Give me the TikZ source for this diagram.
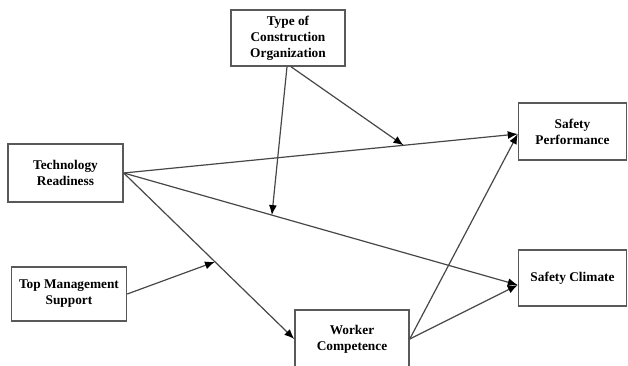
\documentclass[tikz,border=0pt]{standalone}
\usepackage{fontspec}
\setmainfont{Liberation Serif}
\usetikzlibrary{arrows.meta,calc}
\begin{document}
\begin{tikzpicture}[x=0.75pt,y=-0.75pt,
  box/.style={draw=black!65,line width=1.1pt,fill=white,align=center,inner sep=0pt,
    font=\fontsize{10}{12}\selectfont\bfseries},
  link/.style={draw=black!72,line width=0.9pt,-{Latex[length=7.5pt,width=6pt,color=black,fill=black]}}]
\useasboundingbox (0,0) rectangle (628,366);
\node[box,minimum width=85.5pt,minimum height=42pt] (type) at (288,38) {Type of\\Construction\\Organization};
\node[box,minimum width=86.25pt,minimum height=43.5pt] (tr) at (65.5,173) {Technology\\Readiness};
\node[box,minimum width=86.25pt,minimum height=40.5pt] (tms) at (69,294) {Top Management\\Support};
\node[box,minimum width=85.5pt,minimum height=43.5pt] (wc) at (352,339) {Worker\\Competence};
\node[box,minimum width=81pt,minimum height=42.75pt] (sp) at (572.5,131.5) {Safety\\Performance};
\node[box,minimum width=81pt,minimum height=42pt] (sc) at (572.5,278) {Safety Climate};
\coordinate (spin) at ($(sp.west)+(0,2.5)$);
\coordinate (scin) at ($(sc.west)+(0,7)$);
\coordinate (trout) at (tr.east);
\coordinate (m1) at ($(trout)!0.71!(spin)$);
\coordinate (m2) at ($(trout)!0.376!(scin)$);
\coordinate (m3) at ($(trout)!0.535!(wc.west)$);
\draw[link] (trout) -- (spin);
\draw[link] (trout) -- (scin);
\draw[link] (trout) -- (wc.west);
\draw[link] (wc.east) -- (spin);
\draw[link] (wc.east) -- (scin);
\draw[link] (tms.east) -- (m3);
\draw[link] ($(type.south)+(3,0)$) -- (m1);
\draw[link] ($(type.south)+(-1,0)$) -- (m2);
\end{tikzpicture}
\end{document}
